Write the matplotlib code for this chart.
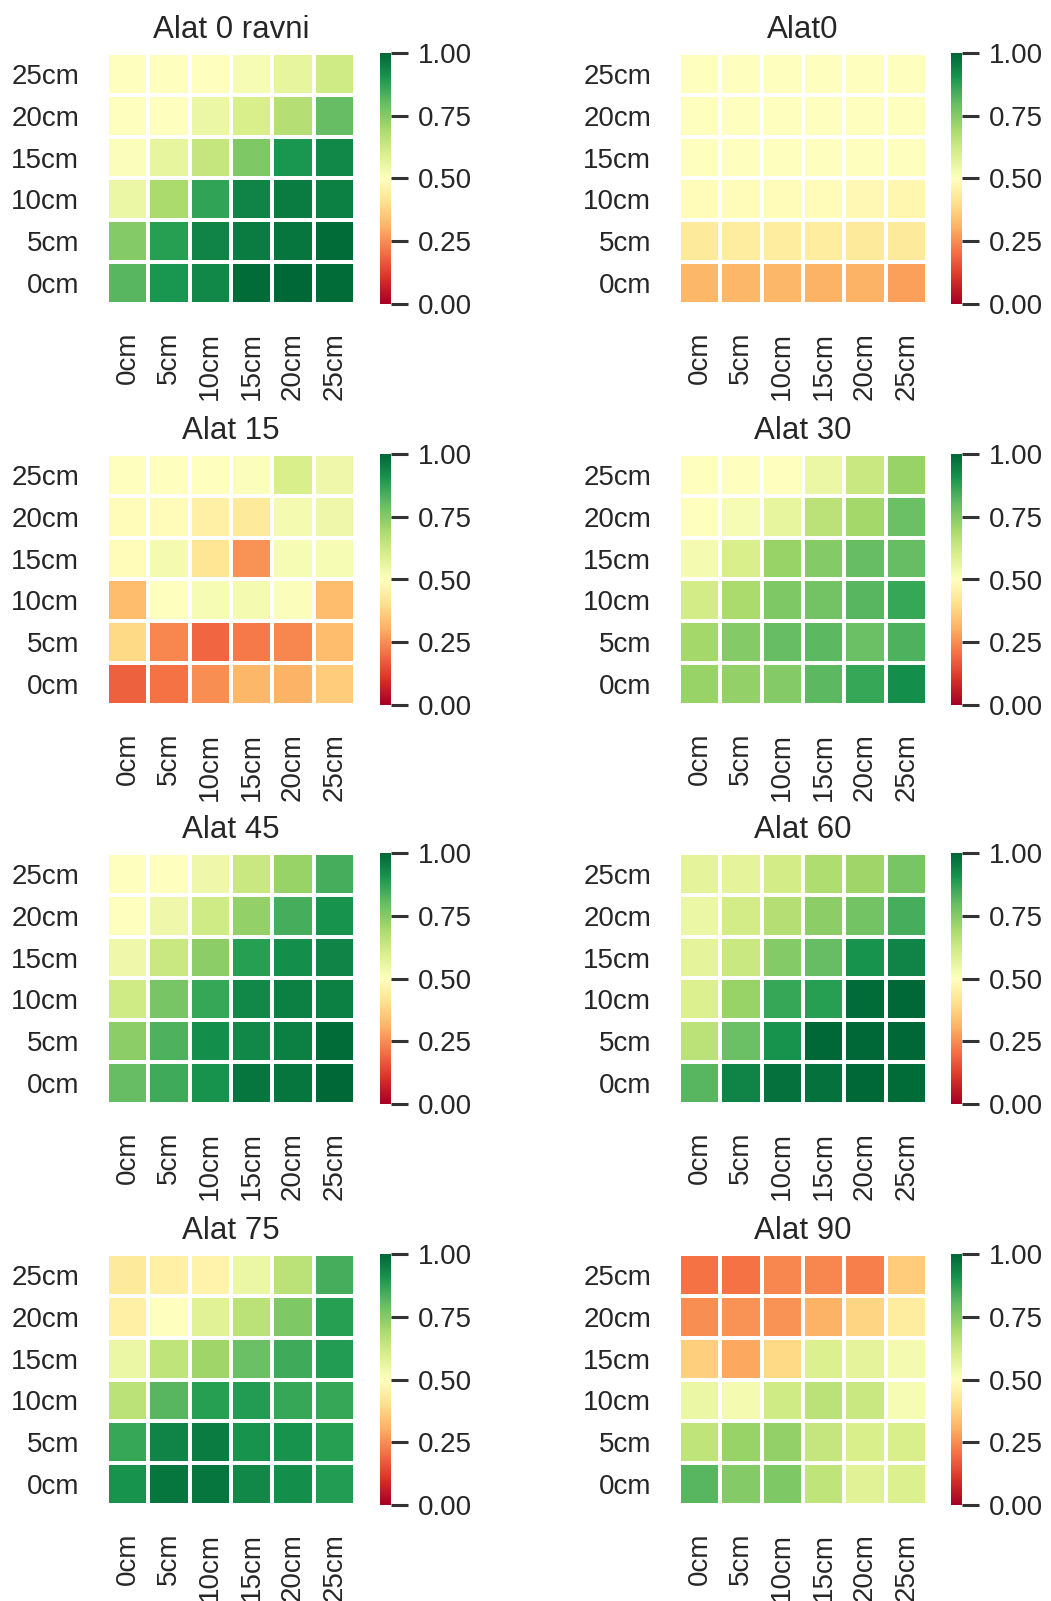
import numpy as np
import matplotlib
matplotlib.use("Agg")
import matplotlib.pyplot as plt

plt.rcParams['font.family'] = ['Liberation Sans', 'DejaVu Sans']

x_labels = ["0cm", "5cm", "10cm", "15cm", "20cm", "25cm"]
y_labels = ["25cm", "20cm", "15cm", "10cm", "5cm", "0cm"]

titles = ["Alat 0 ravni", "Alat0", "Alat 15", "Alat 30",
          "Alat 45", "Alat 60", "Alat 75", "Alat 90"]

alat_0_ravni = [
    [0.50, 0.50, 0.50, 0.52, 0.56, 0.62],
    [0.50, 0.50, 0.55, 0.60, 0.67, 0.80],
    [0.51, 0.56, 0.64, 0.76, 0.90, 0.93],
    [0.55, 0.69, 0.87, 0.94, 0.96, 0.95],
    [0.75, 0.88, 0.94, 0.96, 0.97, 0.99],
    [0.82, 0.90, 0.93, 0.99, 1.00, 0.99],
]
alat0 = [
    [0.50, 0.50, 0.50, 0.50, 0.50, 0.50],
    [0.50, 0.50, 0.50, 0.50, 0.50, 0.50],
    [0.50, 0.50, 0.50, 0.50, 0.50, 0.50],
    [0.49, 0.49, 0.49, 0.49, 0.48, 0.47],
    [0.43, 0.44, 0.44, 0.44, 0.43, 0.43],
    [0.32, 0.32, 0.32, 0.31, 0.31, 0.28],
]
alat_15 = [
    [0.50, 0.50, 0.50, 0.51, 0.60, 0.54],
    [0.49, 0.49, 0.45, 0.43, 0.53, 0.54],
    [0.49, 0.53, 0.42, 0.26, 0.52, 0.52],
    [0.33, 0.50, 0.52, 0.53, 0.51, 0.33],
    [0.39, 0.24, 0.19, 0.22, 0.24, 0.33],
    [0.18, 0.21, 0.25, 0.32, 0.31, 0.36],
]
alat_30 = [
    [0.50, 0.50, 0.50, 0.55, 0.63, 0.72],
    [0.50, 0.52, 0.56, 0.66, 0.70, 0.79],
    [0.53, 0.60, 0.72, 0.75, 0.80, 0.80],
    [0.61, 0.69, 0.76, 0.78, 0.82, 0.86],
    [0.70, 0.75, 0.80, 0.81, 0.79, 0.83],
    [0.72, 0.73, 0.75, 0.81, 0.86, 0.92],
]
alat_45 = [
    [0.50, 0.50, 0.54, 0.63, 0.72, 0.84],
    [0.50, 0.54, 0.62, 0.73, 0.84, 0.91],
    [0.54, 0.63, 0.74, 0.88, 0.92, 0.94],
    [0.62, 0.77, 0.86, 0.93, 0.95, 0.95],
    [0.74, 0.83, 0.92, 0.93, 0.95, 0.99],
    [0.80, 0.85, 0.91, 0.97, 0.97, 1.00],
]
alat_60 = [
    [0.57, 0.57, 0.61, 0.68, 0.71, 0.77],
    [0.55, 0.61, 0.67, 0.74, 0.78, 0.84],
    [0.57, 0.63, 0.75, 0.80, 0.91, 0.94],
    [0.59, 0.72, 0.86, 0.88, 0.99, 1.00],
    [0.66, 0.79, 0.91, 1.00, 1.00, 1.00],
    [0.82, 0.94, 0.98, 0.98, 1.00, 0.99],
]
alat_75 = [
    [0.43, 0.45, 0.46, 0.55, 0.66, 0.84],
    [0.45, 0.50, 0.58, 0.66, 0.76, 0.88],
    [0.55, 0.65, 0.71, 0.79, 0.85, 0.89],
    [0.66, 0.82, 0.88, 0.89, 0.86, 0.86],
    [0.86, 0.94, 0.96, 0.91, 0.91, 0.88],
    [0.91, 0.97, 0.97, 0.93, 0.92, 0.89],
]
alat_90 = [
    [0.21, 0.21, 0.24, 0.24, 0.23, 0.36],
    [0.25, 0.26, 0.26, 0.31, 0.38, 0.44],
    [0.37, 0.29, 0.39, 0.59, 0.57, 0.53],
    [0.55, 0.53, 0.62, 0.66, 0.63, 0.52],
    [0.65, 0.72, 0.73, 0.64, 0.60, 0.60],
    [0.82, 0.75, 0.76, 0.65, 0.58, 0.59],
]

panels = [alat_0_ravni, alat0, alat_15, alat_30, alat_45, alat_60, alat_75, alat_90]

W, H = 1051, 1601
fig = plt.figure(figsize=(W / 100, H / 100), dpi=100)

text_color = '#262626'
col_left = [107, 679]
cbar_left = [380, 951]
row_top = [53, 454, 853, 1254]
ax_w, ax_h = 248, 251

for i, (title, data) in enumerate(zip(titles, panels)):
    r, c = divmod(i, 2)
    x0 = col_left[c]
    y0 = row_top[r]
    ax = fig.add_axes([x0 / W, 1 - (y0 + ax_h) / H, ax_w / W, ax_h / H])
    arr = np.array(data)
    mesh = ax.pcolormesh(arr, cmap='RdYlGn', vmin=0, vmax=1,
                         edgecolors='white', linewidth=2.8)
    ax.set_xlim(0, arr.shape[1])
    ax.set_ylim(arr.shape[0], 0)
    ax.set_xticks(np.arange(arr.shape[1]) + 0.5)
    ax.set_yticks(np.arange(arr.shape[0]) + 0.5)
    ax.set_xticklabels(x_labels, rotation=90)
    ax.set_yticklabels(y_labels, rotation=0)
    ax.tick_params(axis='both', length=0, labelsize=20, colors=text_color, pad=20)
    for s in ax.spines.values():
        s.set_visible(False)
    ax.set_title(title, fontsize=22.5, color=text_color, pad=11)

    cax = fig.add_axes([cbar_left[c] / W, 1 - (y0 + ax_h) / H, 11 / W, ax_h / H])
    cb = fig.colorbar(mesh, cax=cax, ticks=[0, 0.25, 0.5, 0.75, 1.0], format='%.2f')
    cb.outline.set_visible(False)
    cax.tick_params(length=12, width=2.2, color='#333333', labelsize=20,
                    labelcolor=text_color, pad=7)

fig.savefig('out.png', dpi=100)
